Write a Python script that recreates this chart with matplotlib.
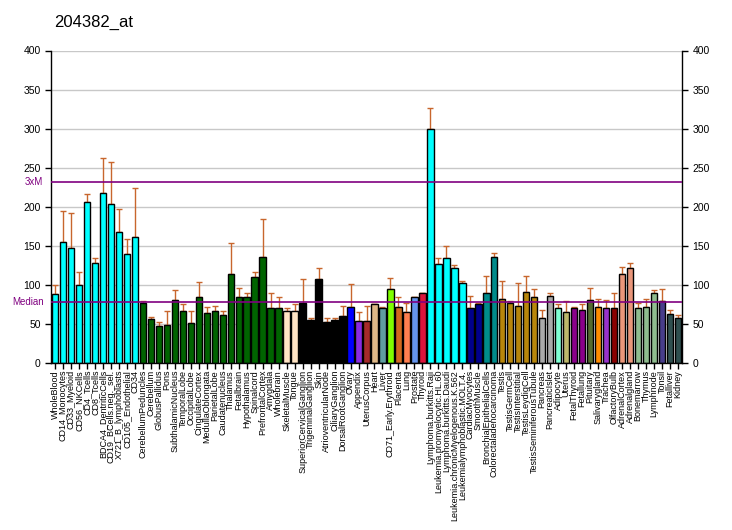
import numpy as np
import matplotlib
matplotlib.use("Agg")
import matplotlib.pyplot as plt

# tissue names, expression values, error tops and colours
tissues = [
    "WholeBlood", "CD14_Monocytes", "CD33_Myeloid", "CD56_NKCells", "CD4_Tcells",
    "CD8_Tcells", "BDCA4_DentriticCells", "CD19_BCells.neg._sel.", "X721_B_lymphoblasts",
    "CD105_Endothelial", "CD34", "CerebellumPeduncles", "Cerebellum", "GlobusPallidus",
    "Pons", "SubthalamicNucleus", "TemporalLobe", "OccipitalLobe", "CingulateCortex",
    "MedullaOblongata", "ParietalLobe", "Caudatenucleus", "Thalamus", "Fetalbrain",
    "Hypothalamus", "Spinalcord", "PrefrontalCortex", "Amygdala", "Wholebrain",
    "SkeletalMuscle", "Tongue", "SuperiorCervicalGanglion", "TrigeminalGanglion", "Skin",
    "AtrioventricularNode", "CiliaryGanglion", "DorsalRootGanglion", "Ovary", "Appendix",
    "UterusCorpus", "Heart", "Liver", "CD71_Early.Erythroid", "Placenta", "Lung",
    "Prostate", "Thyroid", "Lymphoma.burkitts.Raji", "Leukemia.promyelocytic.HL.60",
    "Lymphoma.burkitts.Daudi", "Leukemia.chronicMyelogenous.K.562",
    "Leukemialymphoblastic.MOLT.4.", "CardiacMyocytes", "SmoothMuscle",
    "BronchialEpithelialCells", "Colorectaladenocarcinoma", "Testis", "TestisGermCell",
    "TestisInterstitial", "TestisLeydigCell", "TestisSeminiferousTubule", "Pancreas",
    "PancreaticIslet", "Adipocyte", "Uterus", "FetalThyroid", "Fetallung", "Pituitary",
    "Salivarygland", "Trachea", "OlfactoryBulb", "AdrenalCortex", "Adrenalgland",
    "Bonemarrow", "Thymus", "Lymphnode", "Tonsil", "Fetalliver", "Kidney",
]

values = [
    88, 155, 147, 100, 206, 128, 217, 203, 168, 140, 161,
    77, 56, 48, 49, 81, 66, 51, 85, 64, 67, 62, 114, 85, 85, 110, 136, 71, 70,
    66, 66, 77, 55, 108, 52, 55, 60, 72, 54, 54, 75, 70, 95, 72, 65, 85, 89,
    299, 127, 135, 121, 103, 71, 75, 90, 136, 82, 77, 73, 91, 84, 58, 86, 70,
    65, 71, 68, 81, 72, 71, 71, 114, 122, 70, 72, 90, 80, 63, 58,
]

err_top = [
    100, 194, 192, 117, 216, 135, 263, 257, 197, 159, 224,
    80, 59, 53, 66, 94, 76, 67, 104, 72, 73, 67, 154, 96, 89, 117, 184, 89, 85,
    70, 76, 107, 58, 121, 58, 57, 73, 101, 65, 73, 76, 72, 109, 84, 77, 85, 89,
    326, 135, 150, 126, 105, 86, 77, 112, 141, 105, 80, 103, 112, 95, 68, 89, 76,
    80, 72, 76, 96, 82, 81, 90, 123, 128, 77, 82, 93, 95, 68, 62,
]

colors = (
    ["#00FFFF"] * 11 + ["#006400"] * 18 + ["#FFE4C4"] * 2 + ["#000000"] * 6
    + ["#0000FF", "#8A2BE2", "#A52A2A", "#DEB887", "#5F9EA0", "#7FFF00",
       "#D2691E", "#FF7F50", "#6495ED", "#DC143C"]
    + ["#00FFFF"] * 5 + ["#00008B"] * 2 + ["#008B8B"] * 2 + ["#B8860B"] * 5
    + ["#A9A9A9"] * 2 + ["#7FFFD4", "#BDB76B", "#8B008B", "#8B008B", "#556B2F",
                         "#FF8C00", "#9932CC", "#8B0000", "#E9967A", "#E9967A"]
    + ["#8FBC8F"] * 3 + ["#483D8B", "#2F4F4F", "#2F4F4F"]
)

median_val = 77.5
three_xm = 232

plt.rcParams['font.family'] = ['Liberation Sans', 'DejaVu Sans']

fig = plt.figure(figsize=(7.32, 5.30), dpi=100)
ax = fig.add_axes([51 / 732, 1 - 363 / 530, 631 / 732, 312.5 / 530])

x = np.arange(len(tissues))
vals = np.array(values)
errs = np.array(err_top) - vals

for yv in range(50, 401, 50):
    ax.axhline(yv, color="#C8C8C8", lw=1, zorder=0)

ax.bar(x, vals, width=0.8, color=colors, edgecolor="black", linewidth=1, zorder=2)
ax.errorbar(x, vals, yerr=[np.zeros_like(errs), errs], fmt="none",
            ecolor="#C8662D", elinewidth=1, capsize=2.5, capthick=1, zorder=1)

ax.axhline(median_val, color="#800080", lw=1.2, zorder=3)
ax.axhline(three_xm, color="#800080", lw=1.2, zorder=3)
ax.text(-0.012, median_val, "Median", color="#800080", fontsize=7,
        ha="right", va="center", transform=ax.get_yaxis_transform())
ax.text(-0.012, three_xm, "3xM", color="#800080", fontsize=7,
        ha="right", va="center", transform=ax.get_yaxis_transform())

ax.set_xlim(-0.5, len(tissues) - 0.5)
ax.set_ylim(0, 400)
ax.set_yticks(range(0, 401, 50))
ax.tick_params(axis="y", labelsize=7.5, length=4, width=1, right=True, labelright=True)
ax.set_xticks(x)
ax.set_xticklabels(tissues, rotation=90, fontsize=6.5,
                   family=['Liberation Sans Narrow', 'Liberation Sans', 'DejaVu Sans'])
ax.tick_params(axis="x", length=4, width=1, pad=1)

ax.spines["top"].set_visible(False)
for s in ["left", "right", "bottom"]:
    ax.spines[s].set_linewidth(1)

fig.text(54 / 732, 1 - 22 / 530, "204382_at", fontsize=12, ha="left", va="center")

fig.savefig("out.png", dpi=100)
